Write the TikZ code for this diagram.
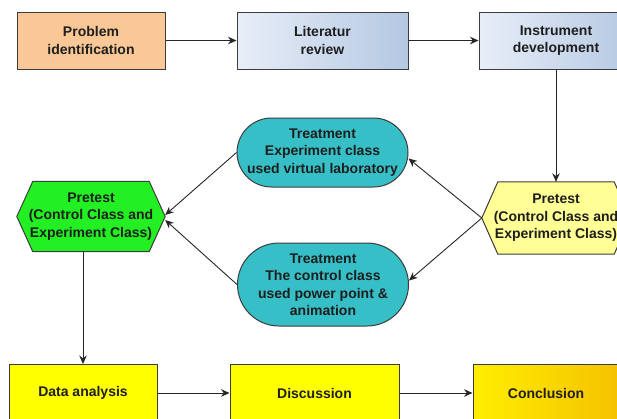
\documentclass[tikz,border=0pt]{standalone}
\usepackage{fontspec}
\setmainfont{Liberation Sans}
\usetikzlibrary{shapes.misc, arrows.meta, positioning, backgrounds}
\definecolor{boxline}{RGB}{60,60,60}
\definecolor{textdark}{RGB}{30,30,30}
\definecolor{probfill}{RGB}{250,200,150}
\definecolor{blueL}{RGB}{232,238,248}
\definecolor{blueR}{RGB}{180,200,226}
\definecolor{hexgreen}{RGB}{35,240,35}
\definecolor{hexyellow}{RGB}{255,255,150}
\definecolor{treatfill}{RGB}{54,191,198}
\definecolor{boxyellow}{RGB}{255,255,0}
\definecolor{concL}{RGB}{255,238,0}
\definecolor{concR}{RGB}{245,194,0}
\newcommand{\diagfont}{\fontsize{14}{17.5}\selectfont\bfseries}
\tikzset{
    stage/.style={rectangle, draw=boxline, line width=1pt, align=center, minimum width=148pt, minimum height=57pt, inner sep=0pt, text=textdark, font=\diagfont},
    blueshade/.style={left color=blueL, right color=blueR},
    yellowshade/.style={left color=concL, right color=concR},
    hexa/.style={rectangle, align=center, minimum width=148pt, minimum height=70pt, inner sep=0pt, text=textdark, font=\diagfont},
    hexline/.style={draw=boxline, line width=1pt},
    treat/.style={rounded rectangle, draw=boxline, line width=1pt, fill=treatfill, align=center, minimum width=171pt, inner sep=0pt, text=textdark, font=\diagfont},
    arrow/.style={line width=0.9pt, draw=black!85, -{Stealth[length=8.5pt, width=7.5pt]}}
}

\begin{document}
\begin{tikzpicture}[x=1pt, y=-1pt]
    \useasboundingbox (0,0) rectangle (617,418);
    \clip (0,0) rectangle (617,418);

    % top row
    \node[stage, fill=probfill] (prob) at (91, 40.5) {Problem\\identification};
    \node[stage, blueshade, minimum width=171pt] (lit) at (322.5, 40.5) {Literatur\\review};
    \node[stage, blueshade, minimum width=154pt] (inst) at (556, 40.5) {Instrument\\development};

    % pretest
    \node[hexa] (preA) at (91, 216.5) {Pretest\\(Control Class and\\Experiment Class)};
    \node[hexa, minimum height=72pt] (preB) at (556, 218) {Pretest\\(Control Class and\\Experiment Class)};
    \begin{scope}[on background layer]
        \foreach \hx/\hcol in {preA/hexgreen, preB/hexyellow}
            \draw[hexline, fill=\hcol] (\hx.west) -- ([xshift=16pt]\hx.north west) -- ([xshift=-16pt]\hx.north east)
                -- (\hx.east) -- ([xshift=-16pt]\hx.south east) -- ([xshift=16pt]\hx.south west) -- cycle;
    \end{scope}

    % treatments
    \node[treat, minimum height=69pt] (trA) at (322.5, 152.5) {Treatment\\Experiment class\\used virtual laboratory};
    \node[treat, minimum height=83pt] (trB) at (323, 284.5) {Treatment\\The control class\\used power point \&\\animation};

    % bottom row
    \node[stage, fill=boxyellow] (data) at (83, 393) {Data analysis};
    \node[stage, fill=boxyellow, minimum width=169pt] (disc) at (314.5, 393) {Discussion};
    \node[stage, yellowshade, minimum width=146pt] (conc) at (546, 393) {Conclusion};

    \draw[arrow] (prob) -- (lit);
    \draw[arrow] (lit) -- (inst);
    \draw[arrow] (inst.south) -- (preB.north);
    \draw[arrow] (preB.west) -- ([yshift=-6pt]trA.east);
    \draw[arrow] (preB.west) -- ([yshift=4pt]trB.east);
    \draw[arrow] (trA.west) -- ([yshift=1.5pt]preA.east);
    \draw[arrow] (trB.west) -- ([yshift=-3.5pt]preA.east);
    \draw[arrow] (preA.south -| data.north) -- (data.north);
    \draw[arrow] (data) -- (disc);
    \draw[arrow] (disc) -- (conc);
\end{tikzpicture}
\end{document}
